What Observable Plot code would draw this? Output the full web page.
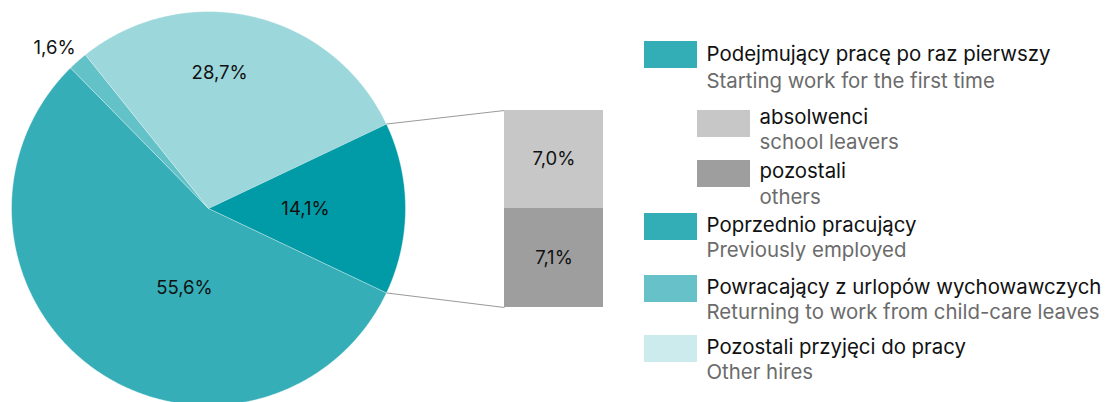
<!DOCTYPE html>
<html><head><meta charset="utf-8">
<script src="https://cdn.jsdelivr.net/npm/d3@7"></script>
<script src="https://cdn.jsdelivr.net/npm/@observablehq/plot@0.6"></script>
<style>body{margin:0;background:#fff} svg{display:block}</style>
</head><body><div id="chart"></div>
<script>
// ---- data ----
const pieCategories = ["Podejmujący pracę po raz pierwszy","Poprzednio pracujący","Powracający z urlopów wychowawczych","Pozostali przyjęci do pracy"];
const pieValues = [14.1, 55.6, 1.6, 28.7];
const pieTexts = ["14,1%","55,6%","1,6%","28,7%"];
const barCategories = ["absolwenci","pozostali"];
const barValues = [7.0, 7.1];
const barTexts = ["7,0%","7,1%"];
const legendPl = ["Podejmujący pracę po raz pierwszy","absolwenci","pozostali","Poprzednio pracujący","Powracający z urlopów wychowawczych","Pozostali przyjęci do pracy"];
const legendEn = ["Starting work for the first time","school leavers","others","Previously employed","Returning to work from child-care leaves","Other hires"];

// ---- styles ----
const pieColors = ["#009ba6","#35aeb8","#63c1c8","#9cd7db"];
const barColors = ["#c6c7c6","#9d9e9d"];
const legendColors = ["#33adb6","#c6c7c6","#9d9e9d","#33adb6","#66c2c8","#cbebed"];
const FONT = "Inter, 'Noto Sans', sans-serif";
const LEG_FS = 20.4, LAB_FS = 18.5;

// ---- layout ----
const W = 1107, H = 402;
const cx = 208, cy = 208, R = 197;
const bar = {x1: 504, x2: 603, top: 110, bottom: 307};
// label placement: [angle in degrees clockwise from 3 o'clock, distance from centre]
const pieLabelPolar = [[0.6, 97], [106.7, 83.5], [226.1, 222], [-85.3, 135.5]];
const legendRows = [
  {box: 41, t1: 60, t2: 87},
  {box: 110, t1: 123, t2: 148},
  {box: 160, t1: 177, t2: 203},
  {box: 213, t1: 231, t2: 256},
  {box: 275, t1: 293, t2: 318},
  {box: 335, t1: 353, t2: 378}
];
const legendX0 = 644, boxW = 53, boxH = 27, indent = 53, textGap = 9;

// ---- geometry from data ----
const total = d3.sum(pieValues);
const firstShare = pieValues[0] / total;
// d3.pie angles: clockwise from 12 o'clock; first slice centred on 3 o'clock
const arcs = d3.pie().sort(null).startAngle(Math.PI/2 - firstShare*Math.PI).endAngle(Math.PI/2 - firstShare*Math.PI + 2*Math.PI)(pieValues);
const pt = (a, r) => ({x: cx + r*Math.sin(a), y: cy - r*Math.cos(a)});
const pieRows = [];
arcs.forEach((a, i) => {
  pieRows.push({i, ...pt(0, 0)});
  const n = Math.max(2, Math.ceil((a.endAngle - a.startAngle) / (Math.PI/360)));
  for (let k = 0; k <= n; k++) pieRows.push({i, ...pt(a.startAngle + (a.endAngle - a.startAngle)*k/n, R)});
});
const pieLabelRows = pieTexts.map((t, i) => {
  const [deg, r] = pieLabelPolar[i];
  const th = deg*Math.PI/180;
  return {t, x: cx + r*Math.cos(th), y: cy + r*Math.sin(th)};
});

const barTotal = d3.sum(barValues);
const pxPer = (bar.bottom - bar.top) / barTotal;
let acc = 0;
const barRows = barValues.map((v, i) => {
  const y1 = bar.top + acc*pxPer; acc += v;
  const y2 = bar.top + acc*pxPer;
  return {i, y1, y2, t: barTexts[i], c: barColors[i]};
});
const pA = pt(arcs[0].startAngle, R), pB = pt(arcs[0].endAngle, R);
const links = [
  {x1: pA.x, y1: pA.y, x2: bar.x1, y2: bar.top},
  {x1: pB.x, y1: pB.y, x2: bar.x1, y2: bar.bottom}
];

const legRows = legendPl.map((pl, i) => {
  const ind = barCategories.includes(pl) ? indent : 0;
  const L = legendRows[i];
  return {pl, en: legendEn[i], c: legendColors[i], x1: legendX0 + ind, x2: legendX0 + ind + boxW,
    y1: L.box, y2: L.box + boxH, tx: legendX0 + ind + boxW + textGap, t1: L.t1, t2: L.t2};
});

const chart = Plot.plot({
  width: W, height: H, margin: 0,
  style: {fontFamily: FONT, background: "#fff"},
  x: {domain: [0, W], range: [0, W], axis: null},
  y: {domain: [0, H], range: [0, H], axis: null},
  color: {type: "identity"},
  marks: [
    Plot.line(pieRows, {x: "x", y: "y", z: "i", fill: d => pieColors[d.i], stroke: "white", strokeWidth: 0.4, curve: "linear"}),
    Plot.link(links, {x1: "x1", y1: "y1", x2: "x2", y2: "y2", stroke: "#9a9a9a", strokeWidth: 1}),
    Plot.rect(barRows, {x1: bar.x1, x2: bar.x2, y1: "y1", y2: "y2", fill: "c"}),
    Plot.text(barRows, {x: (bar.x1 + bar.x2)/2, y: d => (d.y1 + d.y2)/2, text: "t", fontSize: LAB_FS, fill: "#111"}),
    Plot.text(pieLabelRows, {x: "x", y: "y", text: "t", fontSize: LAB_FS, fill: "#111"}),
    Plot.rect(legRows, {x1: "x1", x2: "x2", y1: "y1", y2: "y2", fill: "c"}),
    Plot.text(legRows, {x: "tx", y: "t1", text: "pl", textAnchor: "start", lineAnchor: "bottom", fontSize: LEG_FS, fill: "#111"}),
    Plot.text(legRows, {x: "tx", y: "t2", text: "en", textAnchor: "start", lineAnchor: "bottom", fontSize: LEG_FS, fill: "#6b6b6b"})
  ]
});
document.getElementById("chart").appendChild(chart);
</script>
</body></html>
